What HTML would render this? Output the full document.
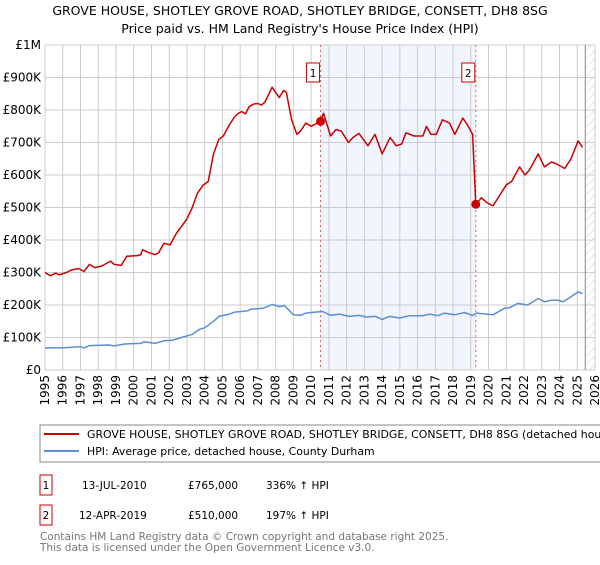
<!DOCTYPE html>
<html><head><meta charset="utf-8"><style>
body{margin:0;width:600px;height:560px;overflow:hidden;background:#fff;font-family:"Liberation Sans","DejaVu Sans",sans-serif;}
svg text{font-family:"DejaVu Sans","Liberation Sans",sans-serif;}
</style></head><body>
<svg id="c" width="600" height="560">
<text x="300" y="15" text-anchor="middle" font-size="12.5">GROVE HOUSE, SHOTLEY GROVE ROAD, SHOTLEY BRIDGE, CONSETT, DH8 8SG</text>
<text x="300" y="33" text-anchor="middle" font-size="12.5">Price paid vs. HM Land Registry's House Price Index (HPI)</text>
<g id="plot"></g>
<g>
<rect x="40" y="425" width="580" height="37" fill="#fff" stroke="#888"/>
<line x1="44" y1="434" x2="79" y2="434" stroke="#cc0000" stroke-width="2"/>
<text x="87" y="438" font-size="10.9">GROVE HOUSE, SHOTLEY GROVE ROAD, SHOTLEY BRIDGE, CONSETT, DH8 8SG (detached house)</text>
<line x1="44" y1="451" x2="79" y2="451" stroke="#5b8fd4" stroke-width="2"/>
<text x="87" y="455" font-size="10.9">HPI: Average price, detached house, County Durham</text>
</g>
<g font-size="10.5">
<rect x="40" y="475" width="12" height="20" fill="#fff" stroke="#cc0000"/>
<text x="46" y="489" text-anchor="middle">1</text>
<text x="82" y="489">13-JUL-2010</text>
<text x="188" y="489">£765,000</text>
<text x="266" y="489">336% ↑ HPI</text>
<rect x="40" y="505" width="12" height="20" fill="#fff" stroke="#cc0000"/>
<text x="46" y="519" text-anchor="middle">2</text>
<text x="79" y="519">12-APR-2019</text>
<text x="188" y="519">£510,000</text>
<text x="266" y="519">197% ↑ HPI</text>
</g>
<text x="40" y="540" font-size="10.5" fill="#777">Contains HM Land Registry data © Crown copyright and database right 2025.</text>
<text x="40" y="551" font-size="10.5" fill="#777">This data is licensed under the Open Government Licence v3.0.</text>
</svg>
<script>
const yTicks=[0,100,200,300,400,500,600,700,800,900,1000];
const yTickLabels=["£0","£100K","£200K","£300K","£400K","£500K","£600K","£700K","£800K","£900K","£1M"];
const xYears=[1995,1996,1997,1998,1999,2000,2001,2002,2003,2004,2005,2006,2007,2008,2009,2010,2011,2012,2013,2014,2015,2016,2017,2018,2019,2020,2021,2022,2023,2024,2025,2026];
const hpiT=[1995,1996,1997,1997.2,1997.5,1998.6,1998.9,1999.5,2000.4,2000.6,2001.2,2001.7,2002.2,2002.7,2003.3,2003.7,2004,2004.5,2004.8,2005.4,2005.7,2006.4,2006.6,2007.3,2007.8,2008.2,2008.5,2009,2009.4,2009.7,2010,2010.65,2011.1,2011.6,2012.15,2012.7,2013.1,2013.65,2014,2014.4,2015,2015.55,2016.3,2016.7,2017.15,2017.5,2018.1,2018.65,2019.1,2019.3,2019.9,2020.25,2020.9,2021.2,2021.65,2022.2,2022.8,2023.15,2023.55,2023.9,2024.2,2024.55,2025.05,2025.3];
const hpiV=[68,68,72,68,75,77,74,80,82,87,82,90,92,100,110,125,130,150,165,172,178,182,187,190,202,195,198,170,168,175,177,180,168,172,165,168,163,165,155,165,160,167,167,172,167,175,170,177,168,175,172,170,190,192,205,200,220,210,215,215,210,222,240,235];
const propT=[1995,1995.3,1995.6,1995.8,1996.2,1996.5,1996.9,1997.2,1997.5,1997.8,1998.2,1998.7,1998.9,1999.3,1999.6,2000.2,2000.4,2000.5,2000.8,2001.2,2001.4,2001.7,2002.05,2002.4,2003,2003.3,2003.6,2003.9,2004.2,2004.5,2004.8,2005.05,2005.4,2005.7,2005.9,2006.1,2006.3,2006.5,2006.75,2007,2007.2,2007.4,2007.8,2008.2,2008.45,2008.6,2008.9,2009.2,2009.4,2009.7,2010,2010.53,2010.7,2011.1,2011.4,2011.7,2012.1,2012.35,2012.7,2013.2,2013.6,2014,2014.45,2014.8,2015.1,2015.35,2015.8,2016.3,2016.5,2016.75,2017.05,2017.4,2017.8,2018.1,2018.55,2018.8,2019.1,2019.28,2019.6,2019.9,2020.25,2020.6,2021,2021.3,2021.75,2022.05,2022.3,2022.8,2023.15,2023.55,2023.8,2024.3,2024.65,2025.05,2025.3];
const propV=[300,290,298,293,300,308,312,303,325,315,320,335,325,322,350,352,355,370,362,355,360,390,385,420,465,500,545,568,580,665,710,720,755,780,790,795,788,810,818,820,815,825,870,838,860,855,770,725,735,760,750,765,790,720,740,735,700,715,728,690,725,665,715,690,695,730,720,720,750,725,725,770,760,725,775,755,725,510,530,515,505,535,570,580,625,600,615,665,625,640,635,620,650,705,685];
const salesT=[2010.53,2019.28];
const salesV=[765,510];
const salesLabel=["1","2"];
const dataEndT=2025.45;

const L=45,R=595,T=45,B=370,NS="http://www.w3.org/2000/svg";
const xs=t=>L+(t-1995)*(R-L)/31;
const ys=v=>B-v*(B-T)/1000;
const g=document.getElementById('plot');
function mk(tag,attrs){const e=document.createElementNS(NS,tag);for(const k in attrs)e.setAttribute(k,attrs[k]);g.appendChild(e);return e;}
let e=mk('rect',{x:xs(salesT[0]),y:T,width:xs(salesT[1])-xs(salesT[0]),height:B-T,fill:'#eef3fd',opacity:0.8});


const defs=document.createElementNS(NS,'defs');defs.innerHTML='<pattern id="h" width="6" height="6" patternUnits="userSpaceOnUse" patternTransform="rotate(45)"><line x1="0" y1="0" x2="0" y2="6" stroke="#ccc" stroke-width="1"/></pattern>';g.appendChild(defs);
e=mk('rect',{x:xs(dataEndT),y:T,width:R-xs(dataEndT),height:B-T,fill:'url(#h)'});


yTicks.forEach((v,i)=>{
 let l=mk('line',{x1:L,x2:R,y1:ys(v),y2:ys(v),stroke:'#ccc'});
 
 
 let t=mk('text',{x:L-4,y:ys(v)+4,'text-anchor':'end','font-size':'12'});t.textContent=yTickLabels[i];
 
 
});
xYears.forEach(yr=>{
 let l=mk('line',{x1:xs(yr),x2:xs(yr),y1:T,y2:B,stroke:'#ccc'});
 
 
 let t=mk('text',{x:0,y:0,'text-anchor':'end','font-size':'12',transform:`translate(${xs(yr)+4},${B+5}) rotate(-90)`});t.textContent=yr;
 
 
});
e=mk('line',{x1:xs(dataEndT),x2:xs(dataEndT),y1:T,y2:B,stroke:'#888'});


salesT.forEach((t,i)=>{
 let l=mk('line',{x1:xs(t),x2:xs(t),y1:T,y2:B,stroke:'#e06060','stroke-dasharray':'2,3'});
 
 
 let r=mk('rect',{x:xs(t)-14,y:63,width:13,height:19,fill:'#fff',stroke:'#cc0000'});
 
 
 let tx=mk('text',{x:xs(t)-7.5,y:77,'text-anchor':'middle','font-size':'10.5'});tx.textContent=salesLabel[i];
 
 
});
function path(T_,V,col,name){
 const d=T_.map((t,i)=>(i?'L':'M')+xs(t).toFixed(1)+','+ys(V[i]).toFixed(1)).join('');
 const p=mk('path',{d,fill:'none',stroke:col,'stroke-width':1.5,'stroke-linejoin':'round'});
 
 
}
path(hpiT,hpiV,'#5b8fd4','hpi-line');
path(propT,propV,'#cc0000','property-line');
salesT.forEach((t,i)=>{
 const c=mk('circle',{cx:xs(t),cy:ys(salesV[i]),r:4.5,fill:'#cc0000'});
 
 
});
</script>
</body></html>
